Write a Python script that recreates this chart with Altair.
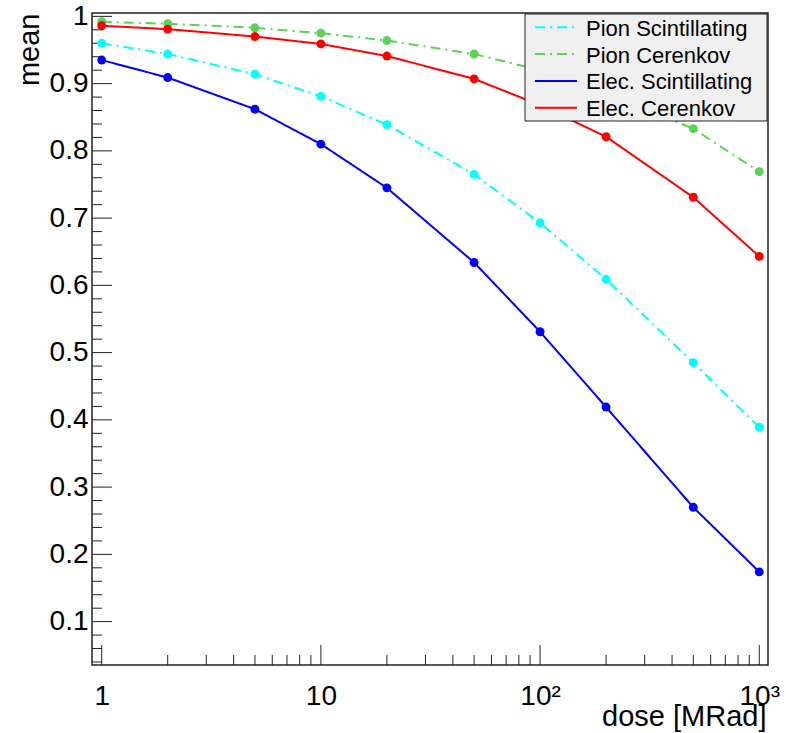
import altair as alt
import pandas as pd
import numpy as np

# ---------------- data ----------------
dose = [1, 2, 5, 10, 20, 50, 100, 200, 500, 1000]
pion_scint = [0.960, 0.944, 0.914, 0.881, 0.839, 0.765, 0.693, 0.609, 0.485, 0.389]
pion_cer = [0.992, 0.989, 0.983, 0.975, 0.964, 0.944, 0.920, 0.887, 0.833, 0.769]
elec_scint = [0.935, 0.909, 0.862, 0.810, 0.745, 0.634, 0.531, 0.419, 0.270, 0.174]
elec_cer = [0.986, 0.981, 0.970, 0.959, 0.941, 0.907, 0.868, 0.821, 0.731, 0.643]

series_names = ["Pion Scintillating", "Pion Cerenkov", "Elec. Scintillating", "Elec. Cerenkov"]
series_values = [pion_scint, pion_cer, elec_scint, elec_cer]
series_colors = ["#00ffff", "#59d454", "#0000ff", "#ff0000"]
series_dash = [[10, 5, 2, 5], [10, 5, 2, 5], [1, 0], [1, 0]]

x_tick_values = [1, 10, 100, 1000]
x_tick_labels = ["1", "10", "10²", "10³"]
x_minor_values = [2, 3, 4, 5, 6, 7, 8, 9, 20, 30, 40, 50, 60, 70, 80, 90,
                  200, 300, 400, 500, 600, 700, 800, 900]
y_tick_values = [0.1, 0.2, 0.3, 0.4, 0.5, 0.6, 0.7, 0.8, 0.9, 1.0]
y_tick_labels = ["0.1", "0.2", "0.3", "0.4", "0.5", "0.6", "0.7", "0.8", "0.9", "1"]
y_minor_values = [v for v in np.round(np.arange(0.04, 1.0, 0.02), 2)
                  if abs(v * 10 - round(v * 10)) > 1e-6]

x_title = "dose [MRad]"
y_title = "mean"

# ---------------- layout ----------------
W, H = 676, 652
FONT = "Liberation Sans"

xscale = alt.Scale(type="log", domain=[0.903, 1096], nice=False, zero=False)
yscale = alt.Scale(domain=[0.0355, 1.005], nice=False, zero=False)


def label_expr(values, labels):
    expr = "''"
    for v, l in reversed(list(zip(values, labels))):
        expr = f"abs(datum.value - {v}) < 1e-6 ? '{l}' : ({expr})"
    return expr


x_axis = alt.Axis(values=x_tick_values, labelExpr=label_expr(x_tick_values, x_tick_labels),
                  domain=False, ticks=False, tickSize=0, grid=False, labelPadding=17,
                  labelFont=FONT, labelFontSize=28, labelColor="black", labelFlush=False,
                  labelOverlap=False, title=x_title, titleFont=FONT, titleFontSize=29,
                  titleFontWeight="normal", titleColor="black", titleX=674, titleY=60,
                  titleAlign="right", titleBaseline="alphabetic", titleAnchor="end")
y_axis = alt.Axis(values=y_tick_values, labelExpr=label_expr(y_tick_values, y_tick_labels),
                  domain=False, ticks=False, tickSize=0, grid=False, labelPadding=4,
                  labelFont=FONT, labelFontSize=28, labelColor="black", labelFlush=False,
                  labelOverlap=False, title=y_title, titleFont=FONT, titleFontSize=29,
                  titleFontWeight="normal", titleColor="black", titleX=-54, titleY=0,
                  titleAngle=-90, titleAlign="right", titleBaseline="alphabetic", titleAnchor="end")


def X(field="x"):
    return alt.X(f"{field}:Q", scale=xscale, axis=x_axis)


def Y(field="y"):
    return alt.Y(f"{field}:Q", scale=yscale, axis=y_axis)


layers = []

# axis ticks (inward, ROOT style)
xt_major = alt.Chart(pd.DataFrame({"x": x_tick_values})).mark_rule(color="#222", strokeWidth=1).encode(
    x=X(), y=alt.value(H), y2=alt.value(H - 20))
xt_minor = alt.Chart(pd.DataFrame({"x": x_minor_values})).mark_rule(color="#222", strokeWidth=1).encode(
    x=X(), y=alt.value(H), y2=alt.value(H - 10))
yt_major = alt.Chart(pd.DataFrame({"y": y_tick_values})).mark_rule(color="#222", strokeWidth=1).encode(
    y=Y(), x=alt.value(0), x2=alt.value(20))
yt_minor = alt.Chart(pd.DataFrame({"y": y_minor_values})).mark_rule(color="#222", strokeWidth=1).encode(
    y=Y(), x=alt.value(0), x2=alt.value(10))
layers += [xt_major, xt_minor, yt_major, yt_minor]

# data series
for name, vals, col, dash in zip(series_names, series_values, series_colors, series_dash):
    df = pd.DataFrame({"x": dose, "y": vals, "series": name})
    base = alt.Chart(df)
    line = base.mark_line(color=col, strokeWidth=2, strokeDash=dash).encode(x=X(), y=Y())
    pts = base.mark_circle(color=col, size=80, opacity=1).encode(x=X(), y=Y())
    layers += [line, pts]

# legend box (ROOT TLegend style)
LX0, LX1, LY0, LY1 = 433, 675, 1, 108
legend_box = alt.Chart(pd.DataFrame({"a": [0]})).mark_rect(
    fill="#f0f0f0", stroke="#222", strokeWidth=1).encode(
    x=alt.value(LX0), x2=alt.value(LX1), y=alt.value(LY0), y2=alt.value(LY1))
layers.append(legend_box)
for i, (name, col, dash) in enumerate(zip(series_names, series_colors, series_dash)):
    yc = 14.3 + i * 26.8
    one = alt.Chart(pd.DataFrame({"label": [name]}))
    layers.append(one.mark_rule(color=col, strokeWidth=2, strokeDash=dash).encode(
        x=alt.value(443), x2=alt.value(485), y=alt.value(yc)))
    layers.append(one.mark_text(align="left", baseline="alphabetic", font=FONT, fontSize=22,
                                color="black").encode(
        x=alt.value(494), y=alt.value(yc + 8.4), text="label:N"))

chart = alt.layer(*layers).properties(
    width=W, height=H,
    autosize=alt.AutoSizeParams(type="none"),
    padding={"left": 92, "top": 13, "right": 18, "bottom": 68},
    background="white",
).configure_view(stroke="#222", strokeWidth=1.5)

chart.save("out.html", embed_options={"renderer": "svg", "actions": False})
